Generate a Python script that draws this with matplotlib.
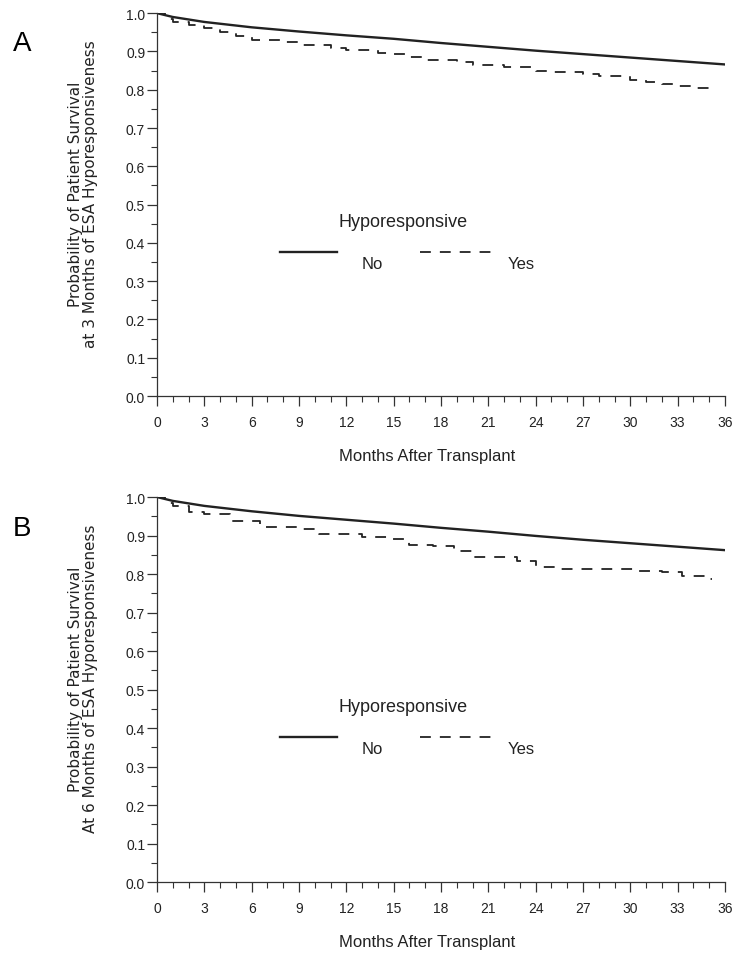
import matplotlib
matplotlib.use("Agg")
import matplotlib.pyplot as plt
import numpy as np

plt.rcParams['font.family'] = ['Liberation Sans', 'DejaVu Sans']

# Panel A (3 months of ESA hyporesponsiveness)
months_no_a = [0, 1, 3, 6, 9, 12, 15, 18, 21, 24, 27, 30, 33, 36]
surv_no_a = [1.0, 0.99, 0.977, 0.963, 0.952, 0.942, 0.933, 0.922, 0.912, 0.902, 0.893, 0.884, 0.875, 0.866]

months_yes_a = [0, 0.5, 1, 2, 3, 4, 5, 6, 8, 9, 11, 12, 14, 15, 16, 17, 19, 20, 22, 24,
                25, 27, 28, 30, 31, 32, 33, 34, 35, 35.3]
surv_yes_a = [1.0, 0.985, 0.978, 0.970, 0.960, 0.952, 0.940, 0.930, 0.925, 0.918, 0.910, 0.905,
              0.897, 0.892, 0.885, 0.878, 0.872, 0.865, 0.860, 0.850, 0.845, 0.840, 0.835, 0.825,
              0.820, 0.815, 0.810, 0.805, 0.798, 0.798]

# Panel B (6 months of ESA hyporesponsiveness)
months_no_b = [0, 1, 3, 6, 9, 12, 15, 18, 21, 24, 27, 30, 33, 36]
surv_no_b = [1.0, 0.99, 0.977, 0.963, 0.951, 0.941, 0.931, 0.920, 0.910, 0.899, 0.889, 0.880, 0.871, 0.862]

months_yes_b = [0, 0.5, 1, 2, 3, 4.6, 6.5, 9, 10.3, 13, 14.8, 16, 17.5, 18.8, 20, 21.6,
                22.8, 24, 25.6, 28.8, 30.5, 32, 33.3, 34.9, 35.2]
surv_yes_b = [1.0, 0.985, 0.976, 0.962, 0.956, 0.938, 0.921, 0.918, 0.905, 0.896, 0.890, 0.876,
              0.874, 0.861, 0.845, 0.843, 0.835, 0.817, 0.814, 0.812, 0.808, 0.804, 0.794, 0.787, 0.787]

ylabels = ["Probability of Patient Survival\nat 3 Months of ESA Hyporesponsiveness",
           "Probability of Patient Survival\nAt 6 Months of ESA Hyporesponsiveness"]
panel_letters = ["A", "B"]
ink = "#222222"

fig = plt.figure(figsize=(7.45, 9.62), dpi=100)
ax_a = fig.add_axes([0.2107, 0.5873, 0.7624, 0.398])
ax_b = fig.add_axes([0.2107, 0.0821, 0.7624, 0.4002])

panels = [
    (ax_a, months_no_a, surv_no_a, months_yes_a, surv_yes_a),
    (ax_b, months_no_b, surv_no_b, months_yes_b, surv_yes_b),
]

for i, (ax, mn, sn, my, sy) in enumerate(panels):
    ax.plot(mn, sn, color=ink, lw=1.7)
    ax.plot(my, sy, color=ink, lw=1.3, ls=(0, (6, 5)), drawstyle="steps-post")

    ax.set_xlim(0, 36)
    ax.set_ylim(0, 1.0)
    ax.set_xticks(np.arange(0, 37, 3))
    ax.set_xticks(np.arange(0, 37, 1), minor=True)
    ax.set_yticks(np.arange(0, 1.01, 0.1))
    ax.set_yticks(np.arange(0, 1.01, 0.05), minor=True)
    ax.set_yticklabels(["%.1f" % v for v in np.arange(0, 1.01, 0.1)])

    for side in ["top", "right"]:
        ax.spines[side].set_visible(False)
    for side in ["left", "bottom"]:
        ax.spines[side].set_color("#333333")
        ax.spines[side].set_linewidth(0.9)

    ax.tick_params(which="major", length=7, width=0.9, color="#333333", labelsize=10,
                   labelcolor=ink)
    ax.tick_params(which="minor", length=4, width=0.8, color="#333333")
    ax.tick_params(axis="x", pad=7)
    ax.tick_params(axis="y", pad=1.5)

    ax.set_xlabel("Months After Transplant", fontsize=12, labelpad=13, color=ink)
    ax.xaxis.set_label_coords(0.475, -0.135)
    ax.set_ylabel(ylabels[i], fontsize=11, color=ink, linespacing=1.0,
                  family=["DejaVu Sans"])
    ax.yaxis.set_label_coords(-0.104, 0.53)

    # legend drawn by hand to mimic the original layout
    ax.text(0.433, 0.456, "Hyporesponsive", transform=ax.transAxes, ha="center", va="center",
            fontsize=13, color=ink)
    ax.plot([0.2165, 0.317], [0.376, 0.376], transform=ax.transAxes, color=ink, lw=1.7)
    ax.plot([0.463, 0.603], [0.376, 0.376], transform=ax.transAxes, color=ink, lw=1.3,
            ls=(0, (6, 5)))
    ax.text(0.361, 0.347, "No", transform=ax.transAxes, ha="left", va="center",
            fontsize=12, color=ink)
    ax.text(0.618, 0.347, "Yes", transform=ax.transAxes, ha="left", va="center",
            fontsize=12, color=ink)

fig.text(13 / 745, 1 - 44 / 962, "A", fontsize=20, ha="left", va="center", color="black")
fig.text(13 / 745, 1 - 529 / 962, "B", fontsize=20, ha="left", va="center", color="black")

fig.savefig("out.png", dpi=100)
plt.close(fig)
